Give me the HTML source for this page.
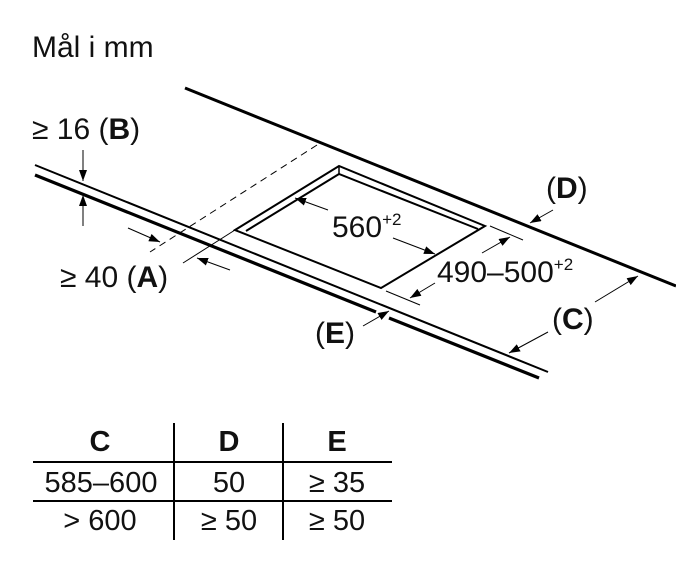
<!DOCTYPE html>
<html><head><meta charset="utf-8"><style>
html,body{margin:0;padding:0;background:#fff;}
svg{display:block;}
text{font-family:"Liberation Sans",sans-serif;fill:#111;}
</style></head><body>
<svg width="676" height="587" viewBox="0 0 676 587" xmlns="http://www.w3.org/2000/svg">
<defs>
<marker id="ah" markerWidth="11" markerHeight="8" refX="11" refY="4" orient="auto" markerUnits="userSpaceOnUse">
<path d="M0,0 L11,4 L0,8 Z" fill="#000"/>
</marker>
</defs>
<rect width="676" height="587" fill="#fff"/>
<text x="32" y="57" font-size="30">Mål i mm</text>
<text x="32" y="139" font-size="30">≥ 16 (<tspan font-weight="bold">B</tspan>)</text>
<text x="60" y="287" font-size="30">≥ 40 (<tspan font-weight="bold">A</tspan>)</text>
<text x="332" y="237" font-size="30">560<tspan font-size="17" dy="-12">+2</tspan></text>
<text x="437" y="282" font-size="30">490–500<tspan font-size="17" dy="-12">+2</tspan></text>
<text x="546" y="198" font-size="30">(<tspan font-weight="bold">D</tspan>)</text>
<text x="552" y="329" font-size="30">(<tspan font-weight="bold">C</tspan>)</text>
<text x="315" y="343" font-size="30">(<tspan font-weight="bold">E</tspan>)</text>

<g stroke="#000" fill="none">
<line x1="185" y1="88" x2="676" y2="286" stroke-width="3"/>
<line x1="35" y1="165" x2="548" y2="372" stroke-width="2"/>
<line x1="35" y1="175" x2="376" y2="312" stroke-width="3.2"/>
<line x1="389" y1="318" x2="539" y2="378" stroke-width="3.2"/>
<line x1="317" y1="145" x2="150" y2="252" stroke-width="1" stroke-dasharray="7,5"/>
<line x1="235" y1="230" x2="183" y2="263" stroke-width="1"/>
<path d="M235,230 L339,166 L485,226 L381,288 Z" stroke-width="2"/>
<path d="M246,231 L339,174 L478,229" stroke-width="2"/>
<line x1="339" y1="166" x2="339" y2="174" stroke-width="1.5"/>
<line x1="490" y1="226" x2="523" y2="240" stroke-width="1"/>
<line x1="386" y1="291" x2="420" y2="305" stroke-width="1"/>
<g stroke-width="1" marker-end="url(#ah)">
<line x1="83" y1="150" x2="83" y2="181"/>
<line x1="83" y1="226" x2="83" y2="195"/>
<line x1="128" y1="228" x2="160" y2="242"/>
<line x1="230" y1="270" x2="197" y2="258"/>
<line x1="328" y1="210" x2="295" y2="198"/>
<line x1="393" y1="238" x2="435" y2="254"/>
<line x1="482" y1="253" x2="510" y2="237"/>
<line x1="435" y1="283" x2="410" y2="298"/>
<line x1="553" y1="210" x2="530" y2="223"/>
<line x1="595" y1="302" x2="638" y2="276"/>
<line x1="548" y1="332" x2="509" y2="353"/>
<line x1="363" y1="326" x2="389" y2="311"/>
</g>
<g stroke-width="2">
<line x1="174" y1="423" x2="174" y2="540"/>
<line x1="283" y1="423" x2="283" y2="540"/>
<line x1="33" y1="462" x2="392" y2="462"/>
<line x1="33" y1="501" x2="392" y2="501"/>
</g>
</g>
<g font-size="29" text-anchor="middle">
<text x="100" y="451" font-weight="bold">C</text>
<text x="229" y="451" font-weight="bold">D</text>
<text x="337" y="451" font-weight="bold">E</text>
<text x="101" y="492">585–600</text>
<text x="229" y="492">50</text>
<text x="337" y="492">≥ 35</text>
<text x="100" y="530">&gt; 600</text>
<text x="229" y="530">≥ 50</text>
<text x="337" y="530">≥ 50</text>
</g>
</svg>
</body></html>
